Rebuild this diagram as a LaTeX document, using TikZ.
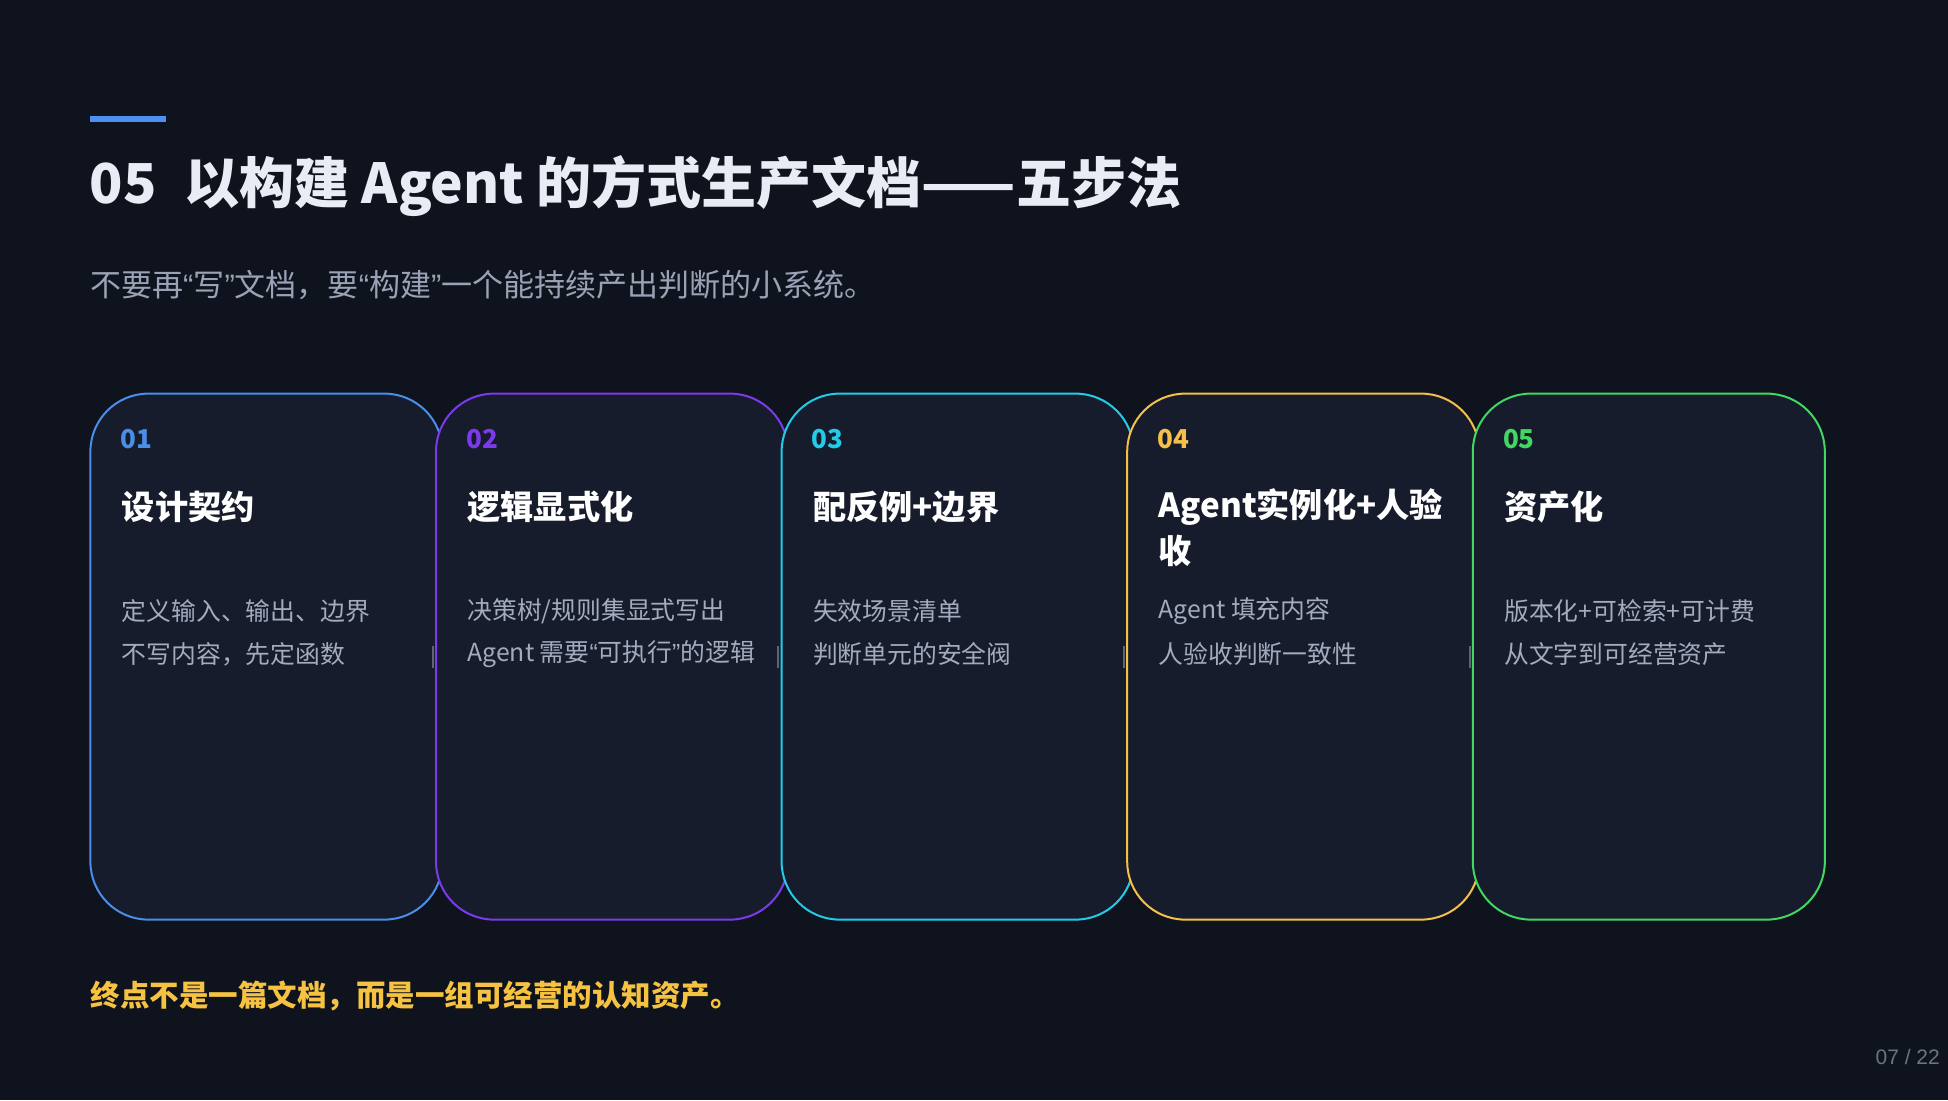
\documentclass[tikz,border=0pt]{standalone}
\usepackage{fontspec}
\setmainfont{Noto Sans CJK SC}
\newfontfamily\latf{Liberation Sans}
\usetikzlibrary{calc}
\definecolor{bg}{HTML}{0F131D}
\definecolor{cardbg}{HTML}{161C2B}
\definecolor{accent}{HTML}{4F8FEF}
\definecolor{cA}{HTML}{4A8EE8}
\definecolor{cB}{HTML}{7C3AED}
\definecolor{cC}{HTML}{22CCE8}
\definecolor{cD}{HTML}{F4C04A}
\definecolor{cE}{HTML}{42D663}
\definecolor{titlec}{HTML}{E8ECF4}
\definecolor{subc}{HTML}{9AA2B5}
\definecolor{descc}{HTML}{A3ABBD}
\definecolor{markc}{HTML}{5C6478}
\definecolor{pagec}{HTML}{6B7386}
\definecolor{footc}{HTML}{F5C242}
\newcommand\oq{{\latf “}}
\newcommand\cq{{\latf ”}}
\begin{document}
\begin{tikzpicture}[x=1pt,y=-1pt,
  cardbox/.style={rectangle, minimum width=352pt, minimum height=526pt, rounded corners=58pt,
    fill=cardbg, line width=2pt, anchor=north west, inner sep=0pt},
  txt/.style={anchor=west, inner sep=0pt},
  numtxt/.style={txt, font=\fontsize{26}{30}\selectfont\bfseries},
  cardtitle/.style={txt, text=white, font=\fontsize{33.2}{38}\selectfont\bfseries},
  desctxt/.style={txt, text=descc, font=\fontsize{24.8}{28}\selectfont}]
\fill[bg] (0,0) rectangle (1948,1100);
\useasboundingbox (0,0) rectangle (1948,1100);

% header
\fill[accent] (89.5,116) rectangle (165.5,122);
\node[txt, text=titlec, font=\fontsize{55}{60}\selectfont\bfseries] (title) at (89.5,186.5)
  {05\hspace{0.5em}以构建 Agent 的方式生产文档——五步法};
\node[txt, text=subc, font=\fontsize{31}{36}\selectfont] (subtitle) at (90,285.5)
  {不要再\oq 写\cq 文档，要\oq 构建\cq 一个能持续产出判断的小系统。};

% cards
\foreach \i/\col/\num in {1/cA/01,2/cB/02,3/cC/03,4/cD/04,5/cE/05} {
  \node[cardbox, draw=\col] (card\i) at ({89.4+345.6*(\i-1)},392.6) {};
}
\foreach \i/\col/\num in {1/cA/01,2/cB/02,3/cC/03,4/cD/04,5/cE/05} {
  \node[numtxt, text=\col] (num\i) at ({120.5+345.6*(\i-1)},439.5) {\num};
}
\foreach \i in {2,...,5} {
  \fill[markc] ($(card\i.west)+(-3.2,-11)$) rectangle ($(card\i.west)+(-1.2,11)$);
}

\node[cardtitle] (t1) at (121.7,507) {设计契约};
\node[cardtitle] (t2) at (467.3,507) {逻辑显式化};
\node[cardtitle] (t3) at (812.9,507) {配反例+边界};
\node[cardtitle] (t4) at (1158.5,507) {Agent实例化+人验};
\node[cardtitle] (t4b) at (1158.5,550.5) {收};
\node[cardtitle] (t5) at (1504.1,507) {资产化};

\node[desctxt] (d1a) at (121.7,611) {定义输入、输出、边界};
\node[desctxt] (d1b) at (121.7,654.5) {不写内容，先定函数};
\node[desctxt] (d2a) at (467.3,611) {决策树/规则集显式写出};
\node[desctxt] (d2b) at (467.3,654.5) {Agent 需要\oq 可执行\cq 的逻辑};
\node[desctxt] (d3a) at (812.9,611) {失效场景清单};
\node[desctxt] (d3b) at (812.9,654.5) {判断单元的安全阀};
\node[desctxt] (d4a) at (1158.5,611) {Agent 填充内容};
\node[desctxt] (d4b) at (1158.5,654.5) {人验收判断一致性};
\node[desctxt] (d5a) at (1504.1,611) {版本化+可检索+可计费};
\node[desctxt] (d5b) at (1504.1,654.5) {从文字到可经营资产};

% footer
\node[txt, text=footc, font=\fontsize{29.5}{34}\selectfont\bfseries] (foot) at (90.5,996)
  {终点不是一篇文档，而是一组可经营的认知资产。};
\node[anchor=east, inner sep=0pt, text=pagec, font=\latf\fontsize{21}{25}\selectfont] (page) at (1940,1057) {07 / 22};
\end{tikzpicture}
\end{document}
